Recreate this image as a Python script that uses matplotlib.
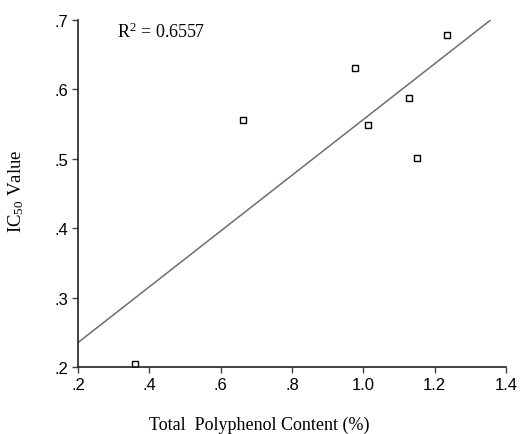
import matplotlib
matplotlib.use("Agg")
import matplotlib.pyplot as plt
import numpy as np

# polyphenol content vs IC50
tpc = [0.36, 0.663, 0.977, 1.014, 1.127, 1.150, 1.235]
ic50 = [0.204, 0.556, 0.630, 0.549, 0.587, 0.501, 0.678]
r2_label = "R$^2$ = 0.6557"

xticks = [0.2, 0.4, 0.6, 0.8, 1.0, 1.2, 1.4]
xtick_labels = [".2", ".4", ".6", ".8", "1.0", "1.2", "1.4"]
yticks = [0.2, 0.3, 0.4, 0.5, 0.6, 0.7]
ytick_labels = [".2", ".3", ".4", ".5", ".6", ".7"]

plt.rcParams['mathtext.fontset'] = 'custom'
plt.rcParams['mathtext.rm'] = 'Liberation Serif'
plt.rcParams['mathtext.it'] = 'Liberation Serif'

fig = plt.figure(figsize=(5.2, 4.35), dpi=100)
ax = fig.add_axes([0.15, 0.154, 0.823, 0.798])

# fitted line
slope, icpt = np.polyfit(tpc, ic50, 1)
xl = np.array([0.2, 1.355])
ax.plot(xl, slope * xl + icpt, color='#6e6e6e', lw=1.1)

ax.plot(tpc, ic50, 's', ms=4.5, mfc='white', mec='black', mew=1.0)

ax.set_xlim(0.2, 1.4)
ax.set_ylim(0.2, 0.7)
ax.spines['top'].set_visible(False)
ax.spines['right'].set_visible(False)
for s in ['left', 'bottom']:
    ax.spines[s].set_linewidth(1.2)
    ax.spines[s].set_color('#222222')

ax.set_xticks(xticks)
ax.set_xticklabels(xtick_labels, fontfamily='Liberation Sans', fontsize=12)
ax.set_yticks(yticks)
ax.set_yticklabels(ytick_labels, fontfamily='Liberation Sans', fontsize=12)
ax.tick_params(direction='out', length=4, width=1, color='#444444', pad=3)

ax.text(0.309, 0.684, r2_label, fontfamily='Liberation Serif', fontsize=13, va='center', ha='left')

# axis titles placed by hand (the x one is not centred on the axes)
fig.text(259 / 520, 1 - 425 / 435, "Total  Polyphenol Content (%)",
         fontfamily='Liberation Serif', fontsize=13, ha='center', va='center')
fig.text(16 / 520, 1 - 191 / 435, r"IC$_{\mathrm{50}}$ Value",
         fontfamily='Liberation Serif', fontsize=13.5, ha='center', va='center', rotation=90)

fig.savefig("out.png", dpi=100)
